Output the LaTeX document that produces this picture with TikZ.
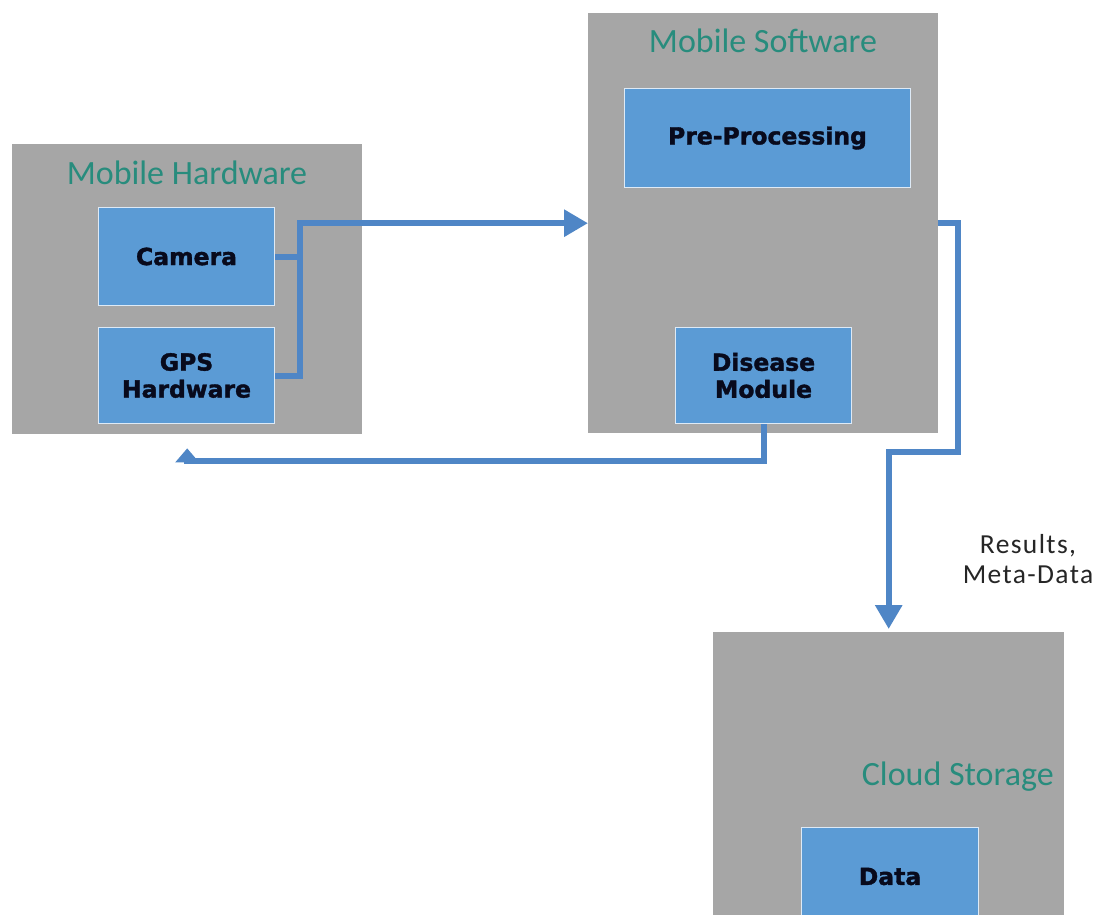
\documentclass[tikz,border=0pt]{standalone}
\usepackage{fontspec}
\setmainfont{Carlito}
\newfontfamily\boxfont{DejaVu Sans}[BoldFeatures={FakeBold=1.6}]
\newfontfamily\notefont{Carlito}[LetterSpace=5]
\usetikzlibrary{arrows.meta,calc}

\definecolor{panelgray}{RGB}{166,166,166}
\definecolor{boxblue}{RGB}{91,155,213}
\definecolor{boxedge}{RGB}{222,234,246}
\definecolor{linkblue}{RGB}{79,134,198}
\definecolor{titleteal}{RGB}{40,140,125}
\definecolor{inktext}{RGB}{8,10,28}

\begin{document}
\begin{tikzpicture}[x=1pt,y=-1pt,
  panel/.style={rectangle, fill=panelgray, draw=none, inner sep=0pt, anchor=north west},
  unit/.style={rectangle, fill=boxblue, draw=boxedge, line width=1pt, inner sep=0pt,
    anchor=north west, align=center, text=inktext,
    font=\boxfont\bfseries\fontsize{23.5}{27}\selectfont},
  paneltitle/.style={inner sep=0pt, text=titleteal, font=\fontsize{34}{37}\selectfont},
  conn/.style={draw=linkblue, line width=6pt},
  tip/.style={-{Triangle[length=24pt,width=26pt]}},
  notetext/.style={inner sep=0pt, align=center, text=black!85,
    font=\notefont\fontsize{27.5}{30}\selectfont}
]
\useasboundingbox (0,0) rectangle (1100,915);
\fill[white] (0,0) rectangle (1100,915);
\clip (0,0) rectangle (1100,915);

% grey panels
\node[panel, minimum width=350pt, minimum height=290pt] (hw) at (12,144) {};
\node[panel, minimum width=350pt, minimum height=420pt] (sw) at (588,13) {};
\node[panel, minimum width=351pt, minimum height=310pt] (cloud) at (713,632) {};

% panel titles
\node[paneltitle] (hwtitle) at (187,173) {Mobile Hardware};
\node[paneltitle] (swtitle) at (763,41) {Mobile Software};
\node[paneltitle, anchor=east] (cltitle) at (1054,777) {Cloud Storage};

% blue units
\node[unit, minimum width=176pt, minimum height=98pt] (cam) at (98,207) {Camera};
\node[unit, minimum width=176pt, minimum height=96pt] (gps) at (98,327) {GPS\\Hardware};
\node[unit, minimum width=286pt, minimum height=99pt] (pre) at (624,88) {Pre-Processing};
\node[unit, minimum width=176pt, minimum height=96pt] (dis) at (675,327) {Disease\\Module};
\node[unit, minimum width=177pt, minimum height=98pt] (data) at (801,827) {Data};

% edge label
\node[notetext] (meta) at (1028,559) {Results,\\Meta-Data};

% hardware -> software
\coordinate (j) at (300,0);
\draw[conn] (cam.east) -- (cam.east -| j);
\draw[conn, tip] (gps.east) -| (j |- sw.west) -- (sw.west);

% disease module feedback -> hardware
\coordinate (fb) at (0,461);
\coordinate (fbtip) at ($(hw.south)+(0,14)$);
\draw[conn] (dis.south) |- (fb -| hw.south) -- ++(0,-6);
\fill[linkblue] (fbtip) -- ++(-12,14) -- ++(24,0) -- cycle;

% software -> cloud storage
\coordinate (o1) at (958,452);
\draw[conn, tip, shorten >=3pt] (sw.east) -| (o1) -| (cloud.north);
\end{tikzpicture}
\end{document}
